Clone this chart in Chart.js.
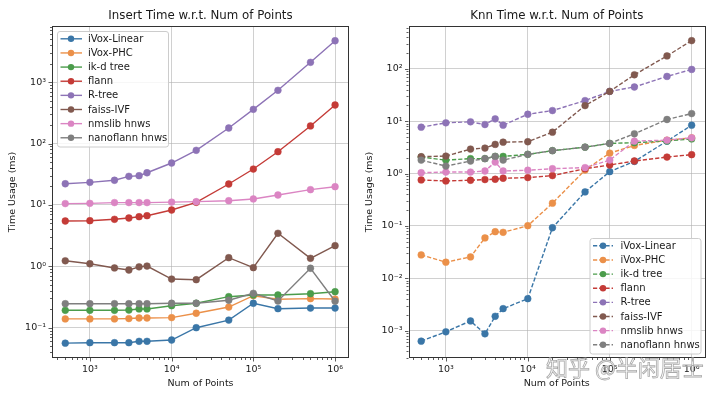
<!DOCTYPE html>
<html><head><meta charset="utf-8">
<script src="https://cdn.jsdelivr.net/npm/chart.js@4.4.1/dist/chart.umd.min.js"></script>
<style>
html,body{margin:0;padding:0;background:#fff;width:720px;height:397px;overflow:hidden}
.wrap{position:absolute;top:0;width:360px;height:397px}
#wm{position:absolute;left:546px;top:353px;font-family:"Noto Sans CJK SC",sans-serif;font-size:22px;line-height:26px;white-space:nowrap;color:rgba(255,255,255,0.55);-webkit-text-stroke:0.8px rgba(140,140,140,0.75);letter-spacing:0px}
</style></head><body>
<div class="wrap" style="left:0"><canvas id="cL" width="360" height="397"></canvas></div>
<div class="wrap" style="left:360px"><canvas id="cR" width="360" height="397"></canvas></div>
<div id="wm">知乎 @半闲居士</div>
<script>
// ---- data ----
const numPoints = [500,1000,2000,3000,4000,5000,10000,20000,50000,100000,200000,500000,1000000];
const seriesNames = ["iVox-Linear","iVox-PHC","ik-d tree","flann","R-tree","faiss-IVF","nmslib hnws","nanoflann hnws"];
const seriesColors = ["#3a76a7","#eb9049","#4b9c4b","#c43b37","#8d73b6","#81594f","#db85c3","#7f7f7f"];
const chartTitles = ["Insert Time w.r.t. Num of Points","Knn Time w.r.t. Num of Points"];

// Insert time (ms)
const insIVoxLinear = [0.056,0.057,0.057,0.057,0.060,0.060,0.063,0.100,0.133,0.25,0.204,0.209,0.209];
const insIVoxPHC    = [0.139,0.139,0.139,0.141,0.144,0.144,0.146,0.172,0.217,0.332,0.29,0.297,0.293];
const insIkdTree    = [0.192,0.192,0.192,0.194,0.202,0.202,0.228,0.25,0.32,0.341,0.341,0.358,0.386];
const insFlann      = [5.47,5.53,5.83,6.12,6.42,6.67,8.26,11.0,21.9,38.4,73.5,193,424];
const insRtree      = [22.1,23.3,25.2,29.2,29.9,33.4,48.1,77.5,179,360,735,2100,4720];
const insFaiss      = [1.23,1.10,0.94,0.87,0.98,1.01,0.62,0.605,1.38,0.95,3.45,1.35,2.17];
const insNmslib     = [10.5,10.6,10.9,10.9,10.9,10.9,11.1,11.3,11.7,12.5,14.5,17.7,19.8];
const insNanoflann  = [0.246,0.246,0.246,0.246,0.246,0.246,0.25,0.25,0.28,0.363,0.272,0.93,0.27];

// Knn time (ms)
const knnIVoxLinear = [0.00063,0.00095,0.00153,0.00087,0.00188,0.00263,0.00407,0.0924,0.447,1.09,1.71,4.17,8.4];
const knnIVoxPHC    = [0.028,0.0203,0.0256,0.059,0.0776,0.0755,0.101,0.272,1.17,2.46,3.45,4.35,4.83];
const knnIkdTree    = [2.07,1.81,1.93,1.93,2.13,2.13,2.33,2.74,3.2,3.77,3.9,4.2,4.6];
const knnFlann      = [0.756,0.723,0.746,0.769,0.779,0.814,0.839,0.916,1.24,1.46,1.74,2.07,2.30];
const knnRtree      = [7.69,9.33,9.75,8.65,11.1,8.4,13.6,16.0,24.8,37.2,45.1,71.8,97.7];
const knnFaiss      = [2.10,2.16,2.94,3.07,3.61,3.99,4.06,6.18,19.9,37.2,77.2,177,347];
const knnNmslib     = [1.04,1.07,1.07,1.12,1.66,1.12,1.16,1.24,1.30,1.81,4.17,4.35,4.83];
const knnNanoflann  = [1.81,1.39,1.74,1.93,2.13,1.81,2.33,2.74,3.2,3.77,5.76,10.8,14.0];

const insSeries = [insIVoxLinear,insIVoxPHC,insIkdTree,insFlann,insRtree,insFaiss,insNmslib,insNanoflann];
const knnSeries = [knnIVoxLinear,knnIVoxPHC,knnIkdTree,knnFlann,knnRtree,knnFaiss,knnNmslib,knnNanoflann];

// ---- helpers ----
const FONT = "'DejaVu Sans', sans-serif";
const SUP = {'-':'\u207B','0':'\u2070','1':'\u00B9','2':'\u00B2','3':'\u00B3','4':'\u2074','5':'\u2075','6':'\u2076','7':'\u2077','8':'\u2078','9':'\u2079'};
function isPow10(v){ const l = Math.log10(v); return Math.abs(l - Math.round(l)) < 1e-9; }
function powLabel(v){ const e = String(Math.round(Math.log10(v))); return '10' + e.split('').map(c=>SUP[c]).join(''); }
const GRID = 'rgba(176,176,176,0.75)';

const framePlugin = {
  id:'frameTicks',
  afterDraw(chart){
    const ctx = chart.ctx, a = chart.chartArea;
    const xs = chart.scales.x, ys = chart.scales.y;
    const L = chart.options.plugins.boxLegend;
    ctx.save();
    // title centred over the plot area
    ctx.fillStyle = '#1a1a1a'; ctx.font = "11.8px " + FONT;
    ctx.textAlign = 'center'; ctx.textBaseline = 'middle';
    ctx.fillText(L.title, (a.left + a.right) / 2, 15.5);
    // frame
    ctx.strokeStyle = '#333'; ctx.lineWidth = 1;
    ctx.strokeRect(Math.round(a.left)+0.5, Math.round(a.top)+0.5, Math.round(a.right-a.left)-1, Math.round(a.bottom-a.top)-1);
    ctx.lineWidth = 0.8;
    for (let n = Math.floor(Math.log10(xs.min)); n <= Math.ceil(Math.log10(xs.max)); n++) {
      for (let k = 1; k <= 9; k++) {
        const v = k * Math.pow(10, n);
        if (v < xs.min || v > xs.max) continue;
        const px = Math.round(xs.getPixelForValue(v)) + 0.5;
        ctx.beginPath(); ctx.moveTo(px, a.bottom); ctx.lineTo(px, a.bottom + (k===1?3.5:2)); ctx.stroke();
      }
    }
    for (let n = Math.floor(Math.log10(ys.min)); n <= Math.ceil(Math.log10(ys.max)); n++) {
      for (let k = 1; k <= 9; k++) {
        const v = k * Math.pow(10, n);
        if (v < ys.min || v > ys.max) continue;
        const py = Math.round(ys.getPixelForValue(v)) + 0.5;
        ctx.beginPath(); ctx.moveTo(a.left, py); ctx.lineTo(a.left - (k===1?3.5:2), py); ctx.stroke();
      }
    }
    // legend
    const bw = 111, bh = 115.5;
    const bx = L.corner === 'tl' ? a.left + 5 : a.right - 4.5 - bw;
    const by = L.corner === 'tl' ? a.top + 5 : a.bottom - 4.5 - bh;
    ctx.fillStyle = 'rgba(255,255,255,0.85)';
    ctx.strokeStyle = '#cccccc'; ctx.lineWidth = 1;
    ctx.beginPath();
    if (ctx.roundRect) ctx.roundRect(bx+0.5, by+0.5, bw, bh, 2.5); else ctx.rect(bx+0.5, by+0.5, bw, bh);
    ctx.fill(); ctx.stroke();
    ctx.font = "10px " + FONT; ctx.textBaseline = 'middle'; ctx.textAlign = 'left';
    chart.data.datasets.forEach((ds, i) => {
      const yy = by + 7.8 + i * 14.14;
      ctx.strokeStyle = ds.borderColor; ctx.lineWidth = 1.4;
      ctx.setLineDash(L.dashed ? [4.2, 2] : []);
      ctx.beginPath(); ctx.moveTo(bx + 3.5, yy); ctx.lineTo(bx + (L.dashed?23.5:25), yy); ctx.stroke();
      ctx.setLineDash([]);
      ctx.fillStyle = ds.borderColor;
      ctx.beginPath(); ctx.arc(bx + (L.dashed?13.5:14), yy, 3.2, 0, Math.PI*2); ctx.fill();
      ctx.fillStyle = '#1a1a1a';
      ctx.fillText(ds.label, bx + 31, yy + 0.5);
    });
    ctx.restore();
  }
};

function makeChart(id, title, series, geo){
  const datasets = series.map((d, i) => ({
    label: seriesNames[i],
    data: d.map((v, j) => ({x: numPoints[j], y: v})),
    borderColor: seriesColors[i],
    backgroundColor: seriesColors[i],
    pointBackgroundColor: seriesColors[i],
    pointBorderColor: seriesColors[i],
    pointBorderWidth: 0.5,
    pointRadius: 3.4,
    borderWidth: 1.4,
    borderDash: geo.dashed ? [4.2, 2] : [],
    tension: 0,
    order: series.length - 1 - i
  }));
  return new Chart(document.getElementById(id), {
    type: 'line',
    data: { datasets },
    options: {
      responsive: false, animation: false, devicePixelRatio: 1,
      layout: { padding: { left: 0, right: geo.padRight, top: 26, bottom: 0 } },
      plugins: {
        legend: { display: false }, tooltip: { enabled: false }, title: { display: false },
        boxLegend: { corner: geo.corner, dashed: geo.dashed, title: title }
      },
      scales: {
        x: {
          type: 'logarithmic', min: geo.xmin, max: geo.xmax,
          afterFit: s => { s.height = 39; },
          grid: { drawTicks: false, color: c => (c.tick && isPow10(c.tick.value)) ? GRID : 'rgba(0,0,0,0)', lineWidth: 0.8 },
          border: { display: false },
          ticks: { autoSkip: false, maxRotation: 0, padding: 6, color: '#1a1a1a', font: { family: FONT, size: 9.5 },
                   callback: v => isPow10(v) ? powLabel(v) : '' },
          title: { display: true, text: 'Num of Points', color: '#1a1a1a', font: { family: FONT, size: 9.5 }, padding: { top: 0, bottom: 8 } }
        },
        y: {
          type: 'logarithmic', min: geo.ymin, max: geo.ymax,
          afterFit: s => { s.width = geo.yWidth; },
          grid: { drawTicks: false, color: c => (c.tick && isPow10(c.tick.value)) ? GRID : 'rgba(0,0,0,0)', lineWidth: 0.8 },
          border: { display: false },
          ticks: { autoSkip: false, padding: 6, color: '#1a1a1a', font: { family: FONT, size: 9.5 },
                   callback: v => isPow10(v) ? powLabel(v) : '' },
          title: { display: true, text: 'Time Usage (ms)', color: '#1a1a1a', font: { family: FONT, size: 9.5 }, padding: { top: geo.yTitleOff, bottom: 0 } }
        }
      }
    },
    plugins: [framePlugin]
  });
}

makeChart('cL', chartTitles[0], insSeries,
  { xmin: 344, xmax: 1.48e6, ymin: 0.0321, ymax: 8200, yWidth: 52, padRight: 11, corner: 'tl', dashed: false, yTitleOff: 7 });
makeChart('cR', chartTitles[1], knnSeries,
  { xmin: 350, xmax: 1.455e6, ymin: 3.22e-4, ymax: 660, yWidth: 48.5, padRight: 15, corner: 'br', dashed: true, yTitleOff: 3.5 });
</script>
</body></html>
